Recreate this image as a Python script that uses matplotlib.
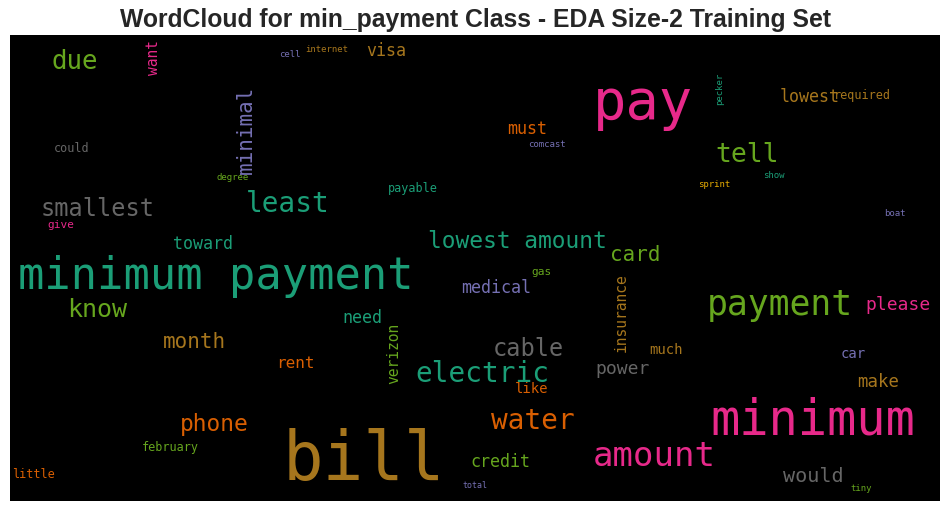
import numpy as np
import matplotlib
matplotlib.use("Agg")
import matplotlib.pyplot as plt

# Dark2 palette used by the word cloud
teal, orange, purple, pink = "#1b9e77", "#d95f02", "#7570b3", "#e7298a"
green, yellow, brown, grey = "#66a61e", "#e6ab02", "#a6761d", "#666666"

""" words of the cloud, with relative size (font pt) and colour """
words = ["pay", "minimum payment", "bill", "minimum", "payment", "amount",
         "due", "want", "minimal", "cell", "internet", "visa", "could",
         "degree", "smallest", "least", "must", "comcast", "payable",
         "pecker", "lowest", "required", "tell", "show", "sprint", "give",
         "toward", "know", "month", "lowest amount", "gas", "medical",
         "need", "verizon", "cable", "card", "insurance", "please", "boat",
         "much", "car", "power", "electric", "like", "rent", "make",
         "water", "phone", "credit", "february", "little", "total",
         "would", "tiny"]
sizes = [40, 31.5, 48.5, 35, 25, 24.5,
         18.5, 10.5, 15, 6.5, 6.5, 12, 8.5,
         6.5, 17, 20, 12, 6.5, 8.5,
         6.5, 12, 8.5, 19, 6.5, 6.5, 8,
         12, 18, 15, 16.5, 8, 12,
         12, 10.5, 17, 15, 10.5, 13, 6.5,
         10, 10, 13, 20, 10, 11.5, 12.5,
         20, 16.5, 12, 8.5, 8.5, 6,
         14.5, 6.5]
colors = [pink, teal, brown, pink, green, pink,
          green, pink, purple, purple, brown, brown, grey,
          green, grey, teal, orange, purple, teal,
          teal, brown, brown, green, teal, yellow, pink,
          teal, green, brown, teal, green, purple,
          teal, green, grey, green, brown, pink, purple,
          brown, purple, grey, teal, orange, orange, brown,
          orange, orange, green, green, orange, purple,
          grey, green]

# layout of the cloud in image pixels (centre x, centre y, rotation)
pos_x = [643, 216, 364, 813, 780, 654,
         75, 153, 246, 290, 327, 386, 72,
         233, 98, 288, 527, 547, 413,
         720, 810, 862, 747, 774, 714, 61,
         203, 97, 194, 517, 541, 496,
         362, 394, 528, 635, 621, 898, 895,
         666, 853, 623, 482, 532, 295, 878,
         533, 214, 500, 170, 33, 475,
         813, 861]
pos_y = [104, 276, 461, 420, 305, 456,
         62, 58, 130, 55, 50, 51, 149,
         178, 209, 204, 129, 145, 189,
         89, 97, 96, 155, 176, 185, 225,
         244, 310, 342, 242, 272, 288,
         318, 353, 349, 255, 313, 305, 213,
         350, 354, 369, 374, 389, 364, 382,
         421, 424, 462, 447, 474, 485,
         476, 488]
vertical = {"want", "minimal", "pecker", "verizon", "insurance"}

fig = plt.figure(figsize=(9.5, 5.11), dpi=100)
ax = fig.add_axes([10 / 950, 1 - 500.5 / 511, 930 / 950, 465 / 511])
ax.set_facecolor("black")
ax.set_xlim(10, 940)
ax.set_ylim(500.5, 35.5)
ax.set_xticks([])
ax.set_yticks([])
for s in ax.spines.values():
    s.set_visible(False)

for w, fs, c, x, y in zip(words, sizes, colors, pos_x, pos_y):
    ax.text(x, y, w, fontsize=fs, color=c, family="DejaVu Sans Mono",
            ha="center", va="center", rotation=90 if w in vertical else 0)

fig.text(0.5, 1 - 20 / 511, "WordCloud for min_payment Class - EDA Size-2 Training Set",
         ha="center", va="center", fontsize=17.8, fontweight="bold",
         color="#262626", family=["Liberation Sans", "DejaVu Sans"])

fig.savefig("out.png", dpi=100, facecolor="white")
